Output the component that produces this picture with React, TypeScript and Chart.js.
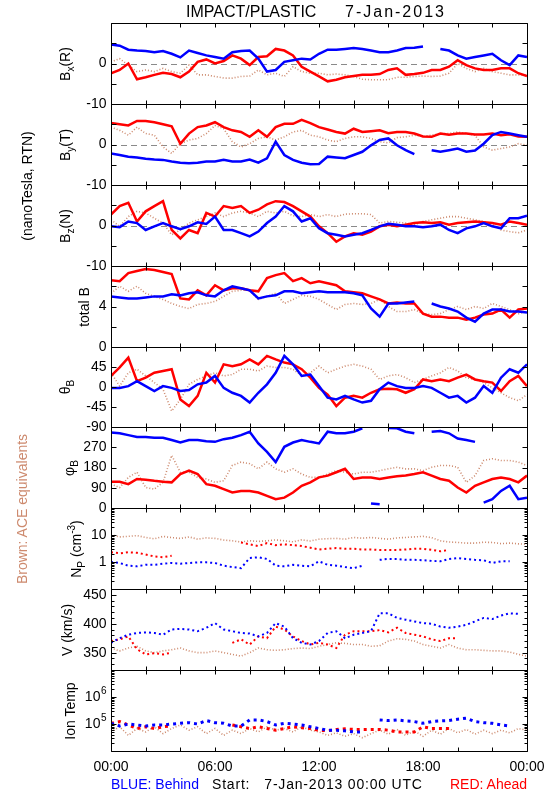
import React, { useEffect, useRef } from 'react';
import { Chart, registerables } from 'chart.js';

Chart.register(...registerables);

const FONT = "'Liberation Sans', Arial, Helvetica, sans-serif";
const BLUE = '#0000ff';
const RED = '#ff0000';
const BROWN = '#cd8a6e';

// ---- time axis (hours since 7-Jan-2013 00:00 UTC) ----
const HOURS = [0, 0.5, 1, 1.5, 2, 2.5, 3, 3.5, 4, 4.5, 5, 5.5, 6, 6.5, 7, 7.5, 8, 8.5, 9, 9.5, 10, 10.5, 11, 11.5, 12, 12.5, 13, 13.5, 14, 14.5, 15, 15.5, 16, 16.5, 17, 17.5, 18, 18.5, 19, 19.5, 20, 20.5, 21, 21.5, 22, 22.5, 23, 23.5, 24];
const X_TICKS = [0, 2, 4, 6, 8, 10, 12, 14, 16, 18, 20, 22, 24];
const X_LABEL_HOURS = [0, 6, 12, 18, 24];
const X_LABELS = ['00:00', '06:00', '12:00', '18:00', '00:00'];

// ---- Bx (R) ----
const BX_BLUE = [4.7, 4.4, 3.4, 3.2, 3.1, 2.8, 3.1, 2.4, 1.5, 3.2, 2.6, 2.0, 1.6, 1.2, 2.8, 3.1, 3.2, 1.2, -2.0, -1.6, 0.4, 0.8, 1.2, 1.0, 2.4, 3.4, 3.4, 3.6, 3.8, 3.6, 3.2, 2.8, 2.8, 3.2, 3.8, 3.9, 4.2, null, 3.6, 3.2, 2.0, 1.2, 1.6, 2.0, 2.4, 0.8, -0.4, 2.0, 1.6];
const BX_RED = [-2.4, -1.6, 0.0, -3.9, -3.4, -2.8, -2.3, -2.6, -3.4, -2.0, 0.4, 1.0, 0.0, 0.6, 2.0, 1.2, -0.4, 1.6, 1.8, 3.6, 3.2, 2.0, -0.8, -2.0, -3.2, -4.4, -4.0, -3.4, -3.1, -2.8, -2.8, -2.6, -1.6, -1.2, -2.8, -2.6, -2.3, -1.6, -1.6, -0.8, 0.8, -0.4, -1.2, -1.6, -1.6, -1.2, -1.2, -2.4, -3.1];
const BX_BROWN = [0.4, 1.2, -0.4, -2.0, -1.6, -2.0, -1.2, -2.0, -2.4, -0.4, -2.8, -2.8, -3.2, -3.6, -3.6, -3.2, -3.1, -1.6, -2.8, -2.4, -3.2, -0.8, -2.0, -2.4, -2.4, -2.8, -2.6, -2.8, -3.2, -3.9, -4.0, -4.0, -4.0, -3.4, -3.4, -3.2, -3.1, -3.2, -3.1, -2.4, 0.0, -1.2, -2.0, -1.2, -2.0, -2.4, -2.8, -2.8, -2.8];

// ---- By (T) ----
const BY_BLUE = [-2.2, -2.6, -3.0, -3.2, -3.5, -3.7, -3.8, -4.2, -4.5, -4.6, -4.5, -4.2, -4.2, -3.8, -4.2, -4.2, -3.7, -4.5, -3.4, 0.7, -2.6, -3.8, -4.5, -4.9, -4.8, -3.0, -3.2, -3.4, -2.6, -1.8, -0.2, 1.1, 1.5, -0.2, -1.4, -2.4, null, -1.4, -1.8, -1.4, -1.0, -1.8, -1.5, 0.2, 2.3, 3.1, 2.7, 2.3, 1.9];
const BY_RED = [5.3, 5.0, 4.7, 5.8, 5.8, 5.5, 5.0, 4.5, 0.2, 2.7, 4.3, 4.7, 5.5, 4.3, 3.5, 3.1, 1.9, 3.5, 1.9, 4.3, 5.1, 5.1, 6.1, 5.3, 4.3, 3.7, 3.1, 2.7, 3.9, 3.1, 3.3, 3.5, 2.8, 3.1, 3.1, 2.7, 2.0, 1.9, 2.7, 2.4, 2.7, 2.7, 2.5, 2.5, 2.7, 2.3, 2.5, 2.0, 1.9];
const BY_BROWN = [4.3, 3.5, 2.3, 4.3, 2.7, 2.3, -0.6, -2.2, 0.2, 1.1, 1.5, 2.7, 4.7, 3.9, 0.7, -0.6, 0.2, 1.5, 1.9, 1.1, 1.9, 3.1, 3.5, 2.3, 1.9, 1.1, 0.7, 1.5, 1.9, 1.9, 1.5, 0.7, 0.4, 1.7, 1.9, 2.3, 2.0, 2.3, 2.7, 2.7, 3.1, 2.7, 2.3, -0.6, -1.4, -1.0, -0.6, 0.2, -0.2];

// ---- Bz (N) ----
const BZ_BLUE = [-0.2, -0.4, 1.0, 0.6, -1.1, -0.2, 0.6, -0.2, -0.9, -0.2, 0.8, 0.4, 2.2, -1.1, -1.1, -1.9, -2.7, -1.5, 0.6, 2.2, 4.8, 3.5, 1.0, 1.8, -0.7, -1.9, -2.3, -2.7, -2.3, -1.9, -1.1, -0.2, 0.4, 0.2, -0.2, -0.2, -0.4, -0.2, 0.2, -1.1, -1.9, -0.7, -0.2, 0.6, -0.2, -0.7, 1.8, 1.8, 2.4];
const BZ_RED = [2.7, 4.8, 5.6, 1.0, 3.5, 4.8, 6.0, -1.1, -3.2, -1.1, -1.9, 3.1, 2.2, 4.8, 4.3, 4.8, 3.1, 3.9, 5.2, 6.0, 5.8, 4.8, 3.5, 2.2, -0.2, -1.9, -4.0, -2.7, -1.9, -2.3, -1.5, -0.2, 0.2, -0.2, 0.2, 0.6, 0.8, 0.6, 0.8, 0.2, 0.6, 0.8, 1.0, 0.8, 0.6, 0.2, 1.0, 0.6, 0.2];
const BZ_BROWN = [1.4, -0.2, 2.2, 3.5, 3.1, 1.8, 0.6, -2.3, -1.1, 0.6, 1.4, 2.2, 3.1, 2.2, 3.1, 3.5, 3.1, 2.2, 3.5, 3.1, 3.5, 2.4, 2.2, 2.7, 2.2, 2.7, 2.2, 2.8, 2.9, 2.9, 2.7, 0.6, 1.0, 0.8, 0.6, 0.2, 1.0, 1.4, 1.8, 2.2, 2.2, 1.8, 1.4, 1.0, 0.2, -1.1, -1.5, -1.8, -1.1];

// ---- total B ----
const BT_BLUE = [5.0, 4.9, 4.8, 4.8, 4.9, 5.0, 5.0, 5.2, 5.1, 5.3, 5.4, 5.1, 5.0, 5.6, 6.0, 5.8, 5.6, 4.8, 5.0, 5.1, 5.5, 5.5, 5.3, 5.4, 5.5, 5.4, 5.4, 5.4, 5.3, 5.1, 3.8, 3.0, 4.3, 4.3, 4.4, 4.5, null, 4.3, 4.0, 3.8, 3.5, 2.9, 2.5, 3.3, 3.7, 3.7, 3.5, 3.5, 3.4];
const BT_RED = [6.6, 6.5, 7.3, 7.5, 7.7, 7.6, 7.4, 7.2, 4.8, 4.7, 5.6, 5.1, 6.1, 5.6, 5.8, 5.8, 5.6, 5.5, 6.8, 7.1, 7.3, 6.5, 6.8, 6.3, 6.5, 6.3, 6.1, 5.5, 5.4, 5.3, 5.0, 4.7, 4.3, 4.4, 4.3, 4.3, 3.3, 3.0, 3.0, 2.9, 2.9, 2.7, 2.9, 3.2, 3.3, 3.7, 2.9, 3.7, 3.8];
const BT_BROWN = [5.3, 6.0, 5.5, 6.0, 5.3, 5.0, 4.7, 4.3, 4.0, 3.8, 4.2, 4.3, 4.5, 5.0, 5.5, 5.6, 5.6, 4.7, 5.0, 5.3, 4.3, 4.7, 5.1, 5.0, 4.7, 4.2, 3.7, 4.2, 4.3, 4.2, 4.3, 4.7, 4.0, 3.5, 3.5, 3.7, 3.3, 3.2, 3.3, 3.7, 4.0, 3.7, 4.0, 3.8, 4.3, 4.0, 3.7, 3.3, 3.5];

// ---- theta_B (deg) ----
const TH_BLUE = [-2, -2, 2, 13, 2, -9, 2, -2, -9, -7, 6, 10, 25, -2, -13, -20, -35, -13, 6, 32, 70, 51, 25, 28, 2, -24, -28, -20, -28, -35, -31, -5, 10, 2, -2, -2, 2, -2, -13, -24, -20, -35, -24, 2, -13, 21, 40, 32, 51];
const TH_RED = [25, 44, 66, 13, 21, 32, 36, 40, -28, -43, -20, 32, 10, 51, 47, 51, 62, 51, 70, 62, 55, 51, 40, 21, -2, -17, -43, -24, -20, -24, -13, -5, -4, -5, -13, -5, 17, 13, 17, 13, 21, 28, 17, 13, 10, -9, 13, 25, 2];
const TH_BROWN = [32, 2, 32, 40, 25, 10, -5, -54, -28, 6, 17, 25, 32, 25, 28, 40, 40, 36, 47, 44, 44, 40, 25, 32, 47, 32, 40, 47, 51, 47, 40, 17, 25, 28, 21, 10, 17, 25, 32, 44, 36, 21, 17, 10, -2, -13, -24, -31, -17];

// ---- phi_B (deg) ----
const PH_BLUE = [336, 332, 324, 316, 316, 312, 312, 302, 291, 302, 302, 297, 294, 306, 312, 324, 339, 287, 249, 204, 272, 291, 302, 294, 287, 339, 332, 332, 339, 354, 20, 17, 355, 354, 339, 332, null, 339, 342, 332, 309, 302, 294, 24, 39, 76, 99, 39, 46];
const PH_RED = [117, 117, 106, 129, 126, 121, 117, 114, 151, 166, 151, 106, 99, 84, 69, 76, 76, 69, 54, 39, 46, 69, 99, 114, 136, 144, 159, 174, 129, 136, 136, 129, 136, 141, 144, 151, 159, 144, 129, 121, 91, 69, 99, 114, 129, 136, 129, 114, 144];
const PH_BROWN = [106, 91, 136, 159, 91, 84, 114, 234, 159, 159, 136, 129, 114, 121, 189, 204, 197, 174, 204, 174, 159, 174, 151, 136, 136, 151, 166, 159, 151, 159, 159, 166, 174, 181, 174, 174, 166, 181, 189, 189, 181, 114, 144, 211, 219, 211, 211, 204, 189];

// ---- Np (cm^-3) ----
const NP_BLUE = [1.0, 0.92, 0.73, 0.69, 0.79, 0.79, 0.86, 0.92, 0.86, 0.92, 0.97, 0.97, 0.92, 0.73, 0.65, 0.59, 1.4, 1.5, 1.3, 0.73, 0.69, 0.79, 0.73, 0.69, 1.06, 0.79, 0.73, 0.65, 0.59, 0.73, null, 1.2, 1.3, 1.3, 1.2, 1.2, 1.16, 1.1, 1.06, 1.3, 1.4, 1.3, 1.2, 1.16, 0.92, 1.06, 1.06, null, null];
const NP_RED = [2.3, 2.1, 2.3, 2.2, 1.9, 1.6, 1.5, 1.7, null, null, null, null, null, null, null, 5.3, 4.5, 3.9, 5.0, 4.2, 4.5, 4.2, 3.9, 3.4, 2.9, 3.1, 3.3, 3.1, 3.1, 2.9, 2.9, 2.8, 2.8, 2.8, 2.9, 3.1, 3.1, 2.8, 2.5, 2.8, null, null, null, null, null, null, null, null, null];
const NP_BROWN = [10, 8.5, 8.9, 9.5, 8.1, 7.2, 8.9, 8.0, 7.5, 8.5, 7.0, 7.8, 7.5, 6.5, 6.1, 5.5, 6.1, 5.8, 6.1, 6.6, 6.1, 5.6, 6.6, 6.0, 7.0, 7.3, 7.5, 7.0, 8.1, 7.6, 8.1, 7.5, 7.0, 7.8, 8.1, 8.5, 8.9, 8.0, 6.1, 5.5, 5.3, 5.0, 5.0, 5.4, 5.3, 4.8, 5.0, 4.7, 4.5];

// ---- V (km/s) ----
const V_BLUE = [367, 375, 381, 384, 385, 384, 381, 390, 391, 390, 387, 393, 401, 390, 387, 384, 383, 378, 384, 401, 395, 375, 367, 364, 370, 384, 387, 375, 381, 384, 387, 418, 418, 410, 407, 404, 401, 400, 395, 393, 395, 398, 404, 410, 408, 414, 418, 417, null];
const V_RED = [370, 373, 378, 356, 347, 349, 347, 350, null, null, null, null, null, null, 367, 373, 364, 378, 375, 395, 390, 378, 370, 364, 367, 364, 358, 381, 387, 387, 387, 389, 385, 393, 384, 381, 378, 373, 370, 375, 375, null, null, null, null, null, null, null, null];
const V_BROWN = [358, 353, 358, 361, 353, 350, 353, 355, 358, 353, 350, 350, 353, 350, 347, 344, 350, 358, 355, 354, 355, 357, 358, 357, 361, 364, 367, 366, 364, 364, 361, 362, 370, 374, 373, 370, 364, 361, 358, 364, 358, 355, 355, 354, 353, 353, 351, 347, 344];

// ---- Ion Temp (K) ----
const T_BLUE = [1.06e5, 8.4e4, 1.0e5, 9.2e4, 8.4e4, 9.2e4, 9.2e4, 1.0e5, 1.06e5, 1.12e5, 1.0e5, 1.34e5, 1.12e5, 1.06e5, 8.4e4, 8.4e4, 1.42e5, 1.42e5, 1.23e5, 9.2e4, 1.06e5, 1.0e5, 9.2e4, 7.9e4, 6.8e4, 5.9e4, 5.9e4, 5.6e4, 5.1e4, 5.1e4, null, 1.42e5, 1.34e5, 1.42e5, 1.3e5, 1.23e5, 1.06e5, 1.23e5, 1.3e5, 1.34e5, 1.5e5, 1.64e5, 1.23e5, 1.12e5, 1.06e5, 9.2e4, 8.4e4, null, null];
const T_RED = [1.06e5, 1.23e5, 9.2e4, 6.8e4, 7.9e4, 6.8e4, 7.9e4, 8.4e4, null, null, null, null, null, null, 9.2e4, 7.9e4, 6.8e4, 7.9e4, 6.8e4, 5.9e4, 6.8e4, 7.9e4, 7.3e4, 6.8e4, 5.9e4, 5.6e4, 6.3e4, 6.6e4, 6.3e4, 6.3e4, 6.3e4, 6.3e4, 5.9e4, 5.1e4, 5.1e4, 5.1e4, 7.9e4, 6.8e4, 6.8e4, 6.8e4, null, null, null, null, null, null, null, null, null];
const T_BROWN = [5.1e4, 7.9e4, 3.8e4, 6.8e4, 5.1e4, 7.9e4, 4.4e4, 6.8e4, 9.2e4, 5.9e4, 7.9e4, 4.4e4, 6.8e4, 3.8e4, 5.9e4, 4.4e4, 6.8e4, 5.1e4, 7.9e4, 5.9e4, 6.8e4, 5.1e4, 7.9e4, 5.9e4, 5.1e4, 3.8e4, 4.7e4, 3.5e4, 4.4e4, 3.1e4, 4.4e4, 5.9e4, 4.2e4, 6.3e4, 3.8e4, 5.6e4, 3.5e4, 5.9e4, 4.2e4, 6.8e4, 4.7e4, 6.3e4, 4.2e4, 5.9e4, 4.4e4, 5.9e4, 4.7e4, 6.8e4, 5.9e4];

// ---- axis ticks ----
const B_TICKS = [-10, -5, 0, 5, 10];
const BT_TICKS = [0, 2, 4, 6, 8];
const TH_TICKS = [-90, -45, 0, 45, 90];
const PH_TICKS = [0, 90, 180, 270, 360];
const NP_TICKS = [0.1, 1, 10, 100];
const V_TICKS = [350, 400, 450];
const T_TICKS = [1e4, 1e5, 1e6, 1e7];

type Kind = 'solid' | 'dot' | 'dash' | 'block';
type Series = { data: (number | null)[]; color: string; kind: Kind };
type Label = { v: number; text: string; sup?: string };
type Panel = {
  top: number;
  height: number;
  yType: 'linear' | 'logarithmic';
  min: number;
  max: number;
  major: number[];
  minor: number[];
  labels: Label[];
  zeroLine?: boolean;
  wrap?: boolean;
  series: Series[];
};

function logMinors(lo: number, hi: number): number[] {
  const out: number[] = [];
  for (let d = lo; d < hi; d *= 10) for (let k = 2; k <= 9; k++) out.push(d * k);
  return out;
}
function linMinors(lo: number, hi: number, step: number): number[] {
  const out: number[] = [];
  for (let v = lo; v <= hi + 1e-9; v += step) out.push(v);
  return out;
}

const PANELS: Panel[] = [
  { top: 23, height: 81, yType: 'linear', min: -10, max: 10, major: B_TICKS, minor: [], zeroLine: true,
    labels: [{ v: -10, text: '-10' }, { v: 0, text: '0' }],
    series: [{ data: BX_BLUE, color: BLUE, kind: 'solid' }, { data: BX_RED, color: RED, kind: 'solid' }, { data: BX_BROWN, color: BROWN, kind: 'dot' }] },
  { top: 104, height: 81, yType: 'linear', min: -10, max: 10, major: B_TICKS, minor: [], zeroLine: true,
    labels: [{ v: -10, text: '-10' }, { v: 0, text: '0' }],
    series: [{ data: BY_BLUE, color: BLUE, kind: 'solid' }, { data: BY_RED, color: RED, kind: 'solid' }, { data: BY_BROWN, color: BROWN, kind: 'dot' }] },
  { top: 185, height: 81, yType: 'linear', min: -10, max: 10, major: B_TICKS, minor: [], zeroLine: true,
    labels: [{ v: -10, text: '-10' }, { v: 0, text: '0' }],
    series: [{ data: BZ_BLUE, color: BLUE, kind: 'solid' }, { data: BZ_RED, color: RED, kind: 'solid' }, { data: BZ_BROWN, color: BROWN, kind: 'dot' }] },
  { top: 266, height: 81, yType: 'linear', min: 0, max: 8, major: BT_TICKS, minor: [],
    labels: [{ v: 0, text: '0' }, { v: 4, text: '4' }],
    series: [{ data: BT_BLUE, color: BLUE, kind: 'solid' }, { data: BT_RED, color: RED, kind: 'solid' }, { data: BT_BROWN, color: BROWN, kind: 'dot' }] },
  { top: 347, height: 80, yType: 'linear', min: -90, max: 90, major: TH_TICKS, minor: [],
    labels: [{ v: -90, text: '-90' }, { v: -45, text: '-45' }, { v: 0, text: '0' }, { v: 45, text: '45' }],
    series: [{ data: TH_BLUE, color: BLUE, kind: 'solid' }, { data: TH_RED, color: RED, kind: 'solid' }, { data: TH_BROWN, color: BROWN, kind: 'dot' }] },
  { top: 427, height: 81, yType: 'linear', min: 0, max: 360, major: PH_TICKS, minor: [], wrap: true,
    labels: [{ v: 0, text: '0' }, { v: 90, text: '90' }, { v: 180, text: '180' }, { v: 270, text: '270' }],
    series: [{ data: PH_BLUE, color: BLUE, kind: 'solid' }, { data: PH_RED, color: RED, kind: 'solid' }, { data: PH_BROWN, color: BROWN, kind: 'dot' }] },
  { top: 508, height: 81, yType: 'logarithmic', min: 0.1, max: 100, major: NP_TICKS, minor: logMinors(0.1, 100),
    labels: [{ v: 1, text: '1' }, { v: 10, text: '10' }],
    series: [{ data: NP_BLUE, color: BLUE, kind: 'dash' }, { data: NP_RED, color: RED, kind: 'dash' }, { data: NP_BROWN, color: BROWN, kind: 'dot' }] },
  { top: 589, height: 81, yType: 'linear', min: 320, max: 460, major: V_TICKS, minor: linMinors(320, 460, 10),
    labels: [{ v: 350, text: '350' }, { v: 400, text: '400' }, { v: 450, text: '450' }],
    series: [{ data: V_BLUE, color: BLUE, kind: 'dash' }, { data: V_RED, color: RED, kind: 'dash' }, { data: V_BROWN, color: BROWN, kind: 'dot' }] },
  { top: 670, height: 81, yType: 'logarithmic', min: 1e4, max: 1e7, major: T_TICKS, minor: logMinors(1e4, 1e7),
    labels: [{ v: 1e5, text: '10', sup: '5' }, { v: 1e6, text: '10', sup: '6' }],
    series: [{ data: T_BLUE, color: BLUE, kind: 'block' }, { data: T_RED, color: RED, kind: 'block' }, { data: T_BROWN, color: BROWN, kind: 'dot' }] },
];

const framePlugin = {
  id: 'frame',
  beforeDatasetsDraw(chart: any, _args: any, opts: any) {
    if (!opts.zeroLine) return;
    const { ctx, chartArea: ca } = chart;
    const y = Math.round(chart.scales.y.getPixelForValue(0)) + 0.5;
    ctx.save();
    ctx.strokeStyle = '#8a8a8a';
    ctx.lineWidth = 1;
    ctx.setLineDash([6, 4]);
    ctx.beginPath();
    ctx.moveTo(ca.left, y);
    ctx.lineTo(ca.right, y);
    ctx.stroke();
    ctx.restore();
  },
  afterDatasetsDraw(chart: any, _args: any, opts: any) {
    const { ctx, chartArea: ca } = chart;
    const xs = chart.scales.x;
    const ys = chart.scales.y;
    const L = Math.round(ca.left) + 0.5;
    const R = Math.round(ca.right) + 0.5;
    const T = Math.round(ca.top) + 0.5;
    const B = Math.round(ca.bottom) + 0.5;
    ctx.save();
    ctx.strokeStyle = '#000';
    ctx.lineWidth = 1;
    ctx.setLineDash([]);
    ctx.beginPath();
    ctx.rect(L, T, R - L, B - T);
    for (const h of X_TICKS) {
      const px = Math.round(xs.getPixelForValue(h)) + 0.5;
      ctx.moveTo(px, T); ctx.lineTo(px, T + 4);
      ctx.moveTo(px, B); ctx.lineTo(px, B - 4);
    }
    for (const v of opts.major as number[]) {
      if (v < opts.min || v > opts.max) continue;
      const py = Math.round(ys.getPixelForValue(v)) + 0.5;
      ctx.moveTo(L, py); ctx.lineTo(L + 5, py);
      ctx.moveTo(R, py); ctx.lineTo(R - 5, py);
    }
    for (const v of opts.minor as number[]) {
      if (v <= opts.min || v >= opts.max) continue;
      const py = Math.round(ys.getPixelForValue(v)) + 0.5;
      ctx.moveTo(L, py); ctx.lineTo(L + 3, py);
      ctx.moveTo(R, py); ctx.lineTo(R - 3, py);
    }
    ctx.stroke();

    ctx.fillStyle = '#000';
    ctx.textBaseline = 'middle';
    for (const lab of opts.labels as Label[]) {
      const py = ys.getPixelForValue(lab.v);
      let right = L - 5;
      if (lab.sup) {
        ctx.font = '10px ' + FONT;
        ctx.textAlign = 'right';
        ctx.fillText(lab.sup, right, py - 6);
        right -= ctx.measureText(lab.sup).width + 0.5;
      }
      ctx.font = '14px ' + FONT;
      ctx.textAlign = 'right';
      ctx.fillText(lab.text, right, py);
    }
    if (opts.xLabels) {
      ctx.font = '14px ' + FONT;
      ctx.textAlign = 'center';
      ctx.textBaseline = 'alphabetic';
      X_LABEL_HOURS.forEach((h, i) => {
        ctx.fillText(X_LABELS[i], xs.getPixelForValue(h), B + 19);
      });
    }
    ctx.restore();
  },
};

function makeDataset(s: Series, wrap: boolean) {
  const ds: any = {
    data: HOURS.map((h, i) => ({ x: h, y: s.data[i] })),
    borderColor: s.color,
    backgroundColor: s.color,
    pointRadius: 0,
    tension: 0,
    spanGaps: false,
    fill: false,
  };
  if (s.kind === 'solid') { ds.borderWidth = 2.5; }
  if (s.kind === 'dot') { ds.borderWidth = 1.6; ds.borderDash = [1, 2]; }
  if (s.kind === 'dash') { ds.borderWidth = 2; ds.borderDash = [2, 3]; }
  if (s.kind === 'block') { ds.borderWidth = 3; ds.borderDash = [3, 4]; }
  if (wrap) {
    ds.segment = {
      borderColor: (c: any) => (Math.abs(c.p0.parsed.y - c.p1.parsed.y) > 150 ? 'rgba(0,0,0,0)' : undefined),
    };
  }
  return ds;
}

function PanelChart({ p, isLast }: { p: Panel; isLast: boolean }) {
  const ref = useRef<HTMLCanvasElement>(null);
  const padBottom = isLast ? 30 : 10;
  const h = p.height + 10 + padBottom;
  useEffect(() => {
    const chart = new Chart(ref.current as HTMLCanvasElement, {
      type: 'line',
      data: { datasets: p.series.map((s) => makeDataset(s, !!p.wrap)) },
      options: {
        animation: false,
        responsive: false,
        devicePixelRatio: 1,
        events: [],
        layout: { padding: { left: 111, right: 23, top: 10, bottom: padBottom } },
        scales: {
          x: { type: 'linear', min: 0, max: 24, display: false },
          y: { type: p.yType, min: p.min, max: p.max, display: false },
        },
        plugins: {
          legend: { display: false },
          tooltip: { enabled: false },
          frame: {
            zeroLine: !!p.zeroLine,
            major: p.major,
            minor: p.minor,
            labels: p.labels,
            min: p.min,
            max: p.max,
            xLabels: isLast,
          },
        } as any,
      },
      plugins: [framePlugin as any],
    } as any);
    return () => chart.destroy();
  }, []);
  return (
    <canvas
      ref={ref}
      width={550}
      height={h}
      style={{ position: 'absolute', left: 0, top: p.top - 10, width: 550, height: h }}
    />
  );
}

function Rot({ x, y, color = '#000', size = 14, children }: { x: number; y: number; color?: string; size?: number; children: React.ReactNode }) {
  return (
    <div
      style={{
        position: 'absolute',
        left: x,
        top: y,
        transform: 'translate(-50%, -50%) rotate(-90deg)',
        whiteSpace: 'nowrap',
        fontSize: size,
        lineHeight: `${size + 2}px`,
        color,
        fontFamily: FONT,
      }}
    >
      {children}
    </div>
  );
}

const Sub = ({ children }: { children: React.ReactNode }) => (
  <span style={{ fontSize: 10, position: 'relative', top: 4 }}>{children}</span>
);
const Sup = ({ children }: { children: React.ReactNode }) => (
  <span style={{ fontSize: 10, position: 'relative', top: -6 }}>{children}</span>
);

export default function App() {
  const txt = (extra: React.CSSProperties): React.CSSProperties => ({
    position: 'absolute',
    fontFamily: FONT,
    whiteSpace: 'pre',
    lineHeight: '16px',
    ...extra,
  });
  return (
    <div style={{ position: 'absolute', left: 0, top: 0, width: 550, height: 800, background: '#fff', overflow: 'hidden' }}>
      {PANELS.map((p, i) => (
        <PanelChart key={i} p={p} isLast={i === PANELS.length - 1} />
      ))}

      <div style={txt({ left: 186, top: 4, fontSize: 16 })}>IMPACT/PLASTIC</div>
      <div style={txt({ left: 345, top: 4, fontSize: 16, letterSpacing: 2 })}>7-Jan-2013</div>

      <Rot x={66} y={64}>B<Sub>x</Sub>(R)</Rot>
      <Rot x={66} y={145}>B<Sub>y</Sub>(T)</Rot>
      <Rot x={66} y={226}>B<Sub>z</Sub>(N)</Rot>
      <Rot x={84} y={307}>total B</Rot>
      <Rot x={66} y={387}>θ<Sub>B</Sub></Rot>
      <Rot x={70} y={468}>φ<Sub>B</Sub></Rot>
      <Rot x={77} y={549}>N<Sub>P</Sub> (cm<Sup>-3</Sup>)</Rot>
      <Rot x={67} y={630}>V (km/s)</Rot>
      <Rot x={70} y={711}>Ion Temp</Rot>

      <Rot x={27} y={186}>(nanoTesla, RTN)</Rot>
      <Rot x={22} y={509} color={BROWN}>Brown: ACE equivalents</Rot>

      <div style={txt({ left: 111, top: 776, fontSize: 14, color: BLUE })}>BLUE: Behind</div>
      <div style={txt({ left: 212, top: 776, fontSize: 14, color: '#000', letterSpacing: 0.8 })}>Start:   7-Jan-2013 00:00 UTC</div>
      <div style={txt({ left: 450, top: 776, fontSize: 14, color: RED })}>RED: Ahead</div>
    </div>
  );
}
